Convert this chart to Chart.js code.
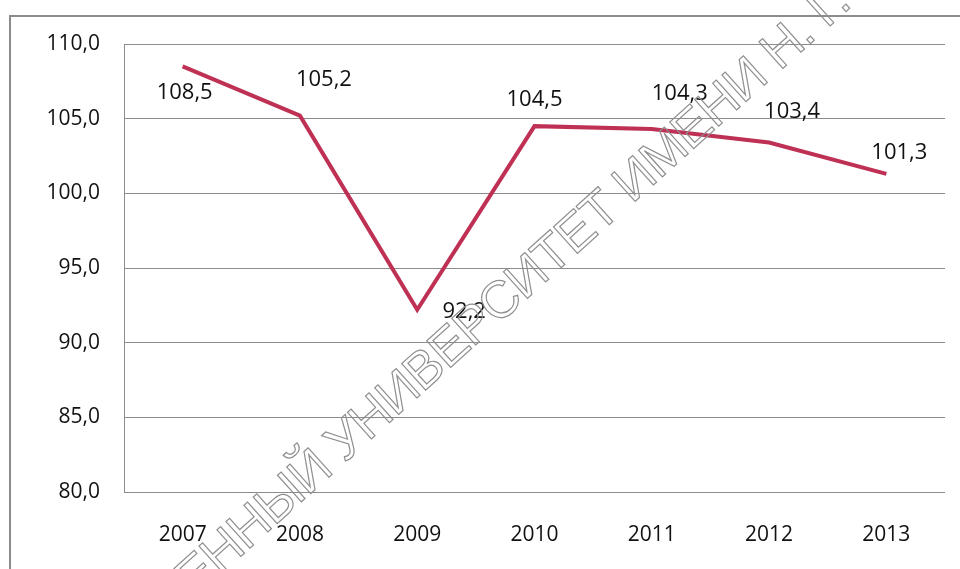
<!DOCTYPE html>
<html>
<head>
<meta charset="utf-8">
<script src="https://cdn.jsdelivr.net/npm/chart.js@4.4.1/dist/chart.umd.min.js"></script>
<style>
  html, body { margin: 0; padding: 0; background: #fff; overflow: hidden; }
  #wrap { position: relative; width: 960px; height: 569px; }
  #frame {
    position: absolute; left: 9px; top: 15px; width: 960px; height: 600px;
    border-left: 2px solid #8c8c8c; border-top: 2px solid #8c8c8c;
    box-sizing: border-box; pointer-events: none;
  }
  #mark {
    position: absolute; left: 200px; top: 552px;
    transform-origin: 0 100%; transform: rotate(-42deg);
    font-family: "Liberation Sans", Arial, sans-serif; font-size: 52px; line-height: 1;
    letter-spacing: -1px;
    white-space: nowrap; color: transparent; -webkit-text-stroke: 1.2px #8f8f8f;
    pointer-events: none;
  }
  canvas { position: absolute; left: 0; top: 0; }
</style>
</head>
<body>
<div id="wrap">
  <canvas id="chart" width="960" height="569"></canvas>
  <div id="frame"></div>
  <div id="mark">ЕННЫЙ УНИВЕРСИТЕТ ИМЕНИ Н. Г.</div>
</div>
<script>
  const years = ["2007", "2008", "2009", "2010", "2011", "2012", "2013"];
  const values = [108.5, 105.2, 92.2, 104.5, 104.3, 103.4, 101.3];
  const yTicks = [80, 85, 90, 95, 100, 105, 110];

  /* label nudges (px) to mimic hand-placed Excel labels */
  const labelShift = [[2, 26], [24, -36], [47, 2], [0, -26], [28, -35], [23, -31], [13, -21]];

  const FONT = "'Open Sans', 'Liberation Sans', sans-serif";
  const fmt = function (v, d) { return v.toFixed(d).replace(".", ","); };

  const valueLabels = {
    id: "valueLabels",
    afterDatasetsDraw(chart) {
      const ctx = chart.ctx;
      const meta = chart.getDatasetMeta(0);
      ctx.save();
      ctx.font = "22px " + FONT;
      ctx.fillStyle = "#111";
      ctx.textAlign = "center";
      ctx.textBaseline = "middle";
      meta.data.forEach(function (pt, i) {
        const s = labelShift[i] || [0, -20];
        ctx.fillText(fmt(values[i], 1), pt.x + s[0], pt.y + s[1]);
      });
      ctx.restore();
    }
  };

  new Chart(document.getElementById("chart"), {
    type: "line",
    data: {
      labels: years,
      datasets: [{
        data: values,
        borderColor: "#bf3154",
        borderWidth: 4,
        pointRadius: 0,
        tension: 0,
        fill: false
      }]
    },
    options: {
      responsive: false,
      animation: false,
      layout: { padding: { left: 0, right: 15, top: 44, bottom: 0 } },
      plugins: { legend: { display: false }, tooltip: { enabled: false } },
      scales: {
        x: {
          offset: true,
          grid: { display: false, drawTicks: false },
          border: { display: false },
          ticks: { color: "#111", font: { family: FONT, size: 21 }, padding: 30, maxRotation: 0 },
          afterFit: function (s) { s.height = 77; }
        },
        y: {
          min: 80, max: 110,
          afterBuildTicks: function (s) { s.ticks = yTicks.map(function (v) { return { value: v }; }); },
          grid: { color: "#8c8c8c", lineWidth: 1, drawTicks: false },
          border: { display: true, color: "#8c8c8c", width: 1 },
          ticks: {
            color: "#111", font: { family: FONT, size: 21 }, padding: 24,
            callback: function (v) { return fmt(v, 1); }
          },
          afterFit: function (s) { s.width = 124; }
        }
      }
    },
    plugins: [valueLabels]
  });
</script>
</body>
</html>
